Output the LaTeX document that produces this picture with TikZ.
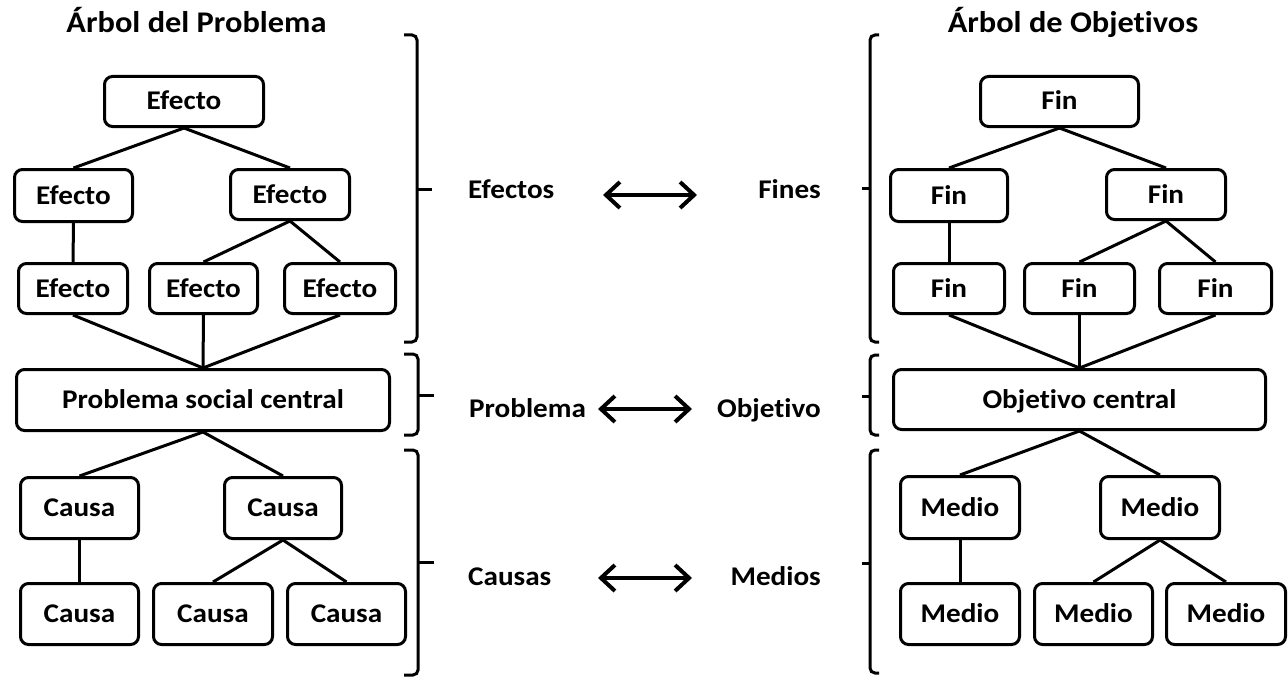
\documentclass[tikz,border=0pt]{standalone}
\usepackage{fontspec}
\setmainfont{Carlito}[FakeStretch=1.08, Ligatures=NoCommon]
\usetikzlibrary{arrows.meta}
\begin{document}
\begin{tikzpicture}[x=1pt,y=-1pt,
  box/.style={draw, line width=3pt, rounded corners=8pt, inner sep=0pt,
    font=\fontsize{27}{32}\selectfont\bfseries, text height=17pt, text depth=0pt},
  sbox/.style={box, minimum width=#1, minimum height=50pt},
  tbox/.style={box, minimum width=#1, minimum height=61pt},
  link/.style={line width=3pt},
  brace/.style={line width=3pt, rounded corners=5pt},
  lbl/.style={font=\fontsize{27}{32}\selectfont\bfseries, inner sep=0pt},
  ttl/.style={font=\fontsize{30}{36}\selectfont\bfseries, inner sep=0pt},
  dbl/.style={line width=4pt,
    {Straight Barb[length=14pt,width=26pt,line width=4pt]}-{Straight Barb[length=14pt,width=26pt,line width=4pt]}}
]
\useasboundingbox (0,0) rectangle (1288,677);

% Titles
\node[ttl, anchor=base] (t1) at (196.5,33) {Árbol del Problema};
\node[ttl, anchor=base] (t2) at (1073,33) {Árbol de Objetivos};

% Left tree
\node[sbox=159pt] (e0) at (184,101.5) {Efecto};
\node[sbox=118pt, minimum height=52pt] (e1) at (73.5,195.5) {Efecto};
\node[sbox=119pt] (e2) at (290,194.5) {Efecto};
\node[sbox=109pt] (e3) at (73,288.5) {Efecto};
\node[sbox=108pt] (e4) at (203.5,288.5) {Efecto};
\node[sbox=111pt] (e5) at (340,288.5) {Efecto};
\node[tbox=373pt] (p) at (203,400) {Problema social central};
\node[tbox=118pt] (c1) at (79.5,508) {Causa};
\node[tbox=117pt] (c2) at (283,508) {Causa};
\node[tbox=118pt] (c3) at (79.5,614) {Causa};
\node[tbox=119pt] (c4) at (213,614) {Causa};
\node[tbox=118pt] (c5) at (346.5,614) {Causa};

\draw[link] (e0.south) -- (e1.north);
\draw[link] (e0.south) -- (e2.north);
\draw[link] (e1.south) -- (e3.north);
\draw[link] (e2.south) -- (e4.north);
\draw[link] (e2.south) -- (e5.north);
\draw[link] (e3.south) -- (p.north);
\draw[link] (e4.south) -- (p.north);
\draw[link] (e5.south) -- (p.north);
\draw[link] (p.south) -- (c1.north);
\draw[link] (p.south) -- (c2.north);
\draw[link] (c1.south) -- (c3.north);
\draw[link] (c2.south) -- (c4.north);
\draw[link] (c2.south) -- (c5.north);

% Right tree
\node[sbox=158pt] (f0) at (1059.5,101.5) {Fin};
\node[sbox=117pt, minimum height=52pt] (f1) at (949,195.5) {Fin};
\node[sbox=119pt] (f2) at (1166,194.5) {Fin};
\node[sbox=111pt] (f3) at (949,288.5) {Fin};
\node[sbox=110pt] (f4) at (1079.5,288.5) {Fin};
\node[sbox=112pt] (f5) at (1215.5,288.5) {Fin};
\node[tbox=372pt, minimum height=60pt] (o) at (1079.5,399.5) {Objetivo central};
\node[tbox=119pt, minimum height=62pt] (m1) at (960,507.5) {Medio};
\node[tbox=119pt, minimum height=62pt] (m2) at (1160,507.5) {Medio};
\node[tbox=119pt] (m3) at (960,614) {Medio};
\node[tbox=118pt] (m4) at (1093.5,614) {Medio};
\node[tbox=119pt] (m5) at (1226,614) {Medio};

\draw[link] (f0.south) -- (f1.north);
\draw[link] (f0.south) -- (f2.north);
\draw[link] (f1.south) -- (f3.north);
\draw[link] (f2.south) -- (f4.north);
\draw[link] (f2.south) -- (f5.north);
\draw[link] (f3.south) -- (o.north);
\draw[link] (f4.south) -- (o.north);
\draw[link] (f5.south) -- (o.north);
\draw[link] (o.south) -- (m1.north);
\draw[link] (o.south) -- (m2.north);
\draw[link] (m1.south) -- (m3.north);
\draw[link] (m2.south) -- (m4.north);
\draw[link] (m2.south) -- (m5.north);

% Left braces
\draw[brace] (404,35) -- (417,35) -- (417,342) -- (404,342);
\draw[link] (417,189) -- (432,189);
\draw[brace] (404,354) -- (418,354) -- (418,435) -- (404,435);
\draw[link] (418,395) -- (434,395);
\draw[brace] (404,450) -- (418,450) -- (418,675) -- (404,675);
\draw[link] (418,562) -- (434,562);

% Right braces
\draw[brace] (879,35) -- (870,35) -- (870,342) -- (879,342);
\draw[link] (870,188) -- (862,188);
\draw[brace] (879,355) -- (870,355) -- (870,435) -- (879,435);
\draw[link] (870,396) -- (862,396);
\draw[brace] (879,450) -- (870,450) -- (870,673) -- (879,673);
\draw[link] (870,563) -- (862,563);

% Middle labels
\node[lbl, anchor=base west] (l1) at (468,198) {Efectos};
\node[lbl, anchor=base west] (l2) at (469,417) {Problema};
\node[lbl, anchor=base west] (l3) at (468,585) {Causas};
\node[lbl, anchor=base east] (r1) at (821,198) {Fines};
\node[lbl, anchor=base east] (r2) at (821,417) {Objetivo};
\node[lbl, anchor=base east] (r3) at (821,585) {Medios};

\coordinate (a1l) at (603,195);
\coordinate (a1r) at (697,195);
\coordinate (a2l) at (598,409);
\coordinate (a2r) at (692,409);
\coordinate (a3l) at (598,578);
\coordinate (a3r) at (692,578);
\draw[dbl] (a1l) -- (a1r);
\draw[dbl] (a2l) -- (a2r);
\draw[dbl] (a3l) -- (a3r);
\end{tikzpicture}
\end{document}
